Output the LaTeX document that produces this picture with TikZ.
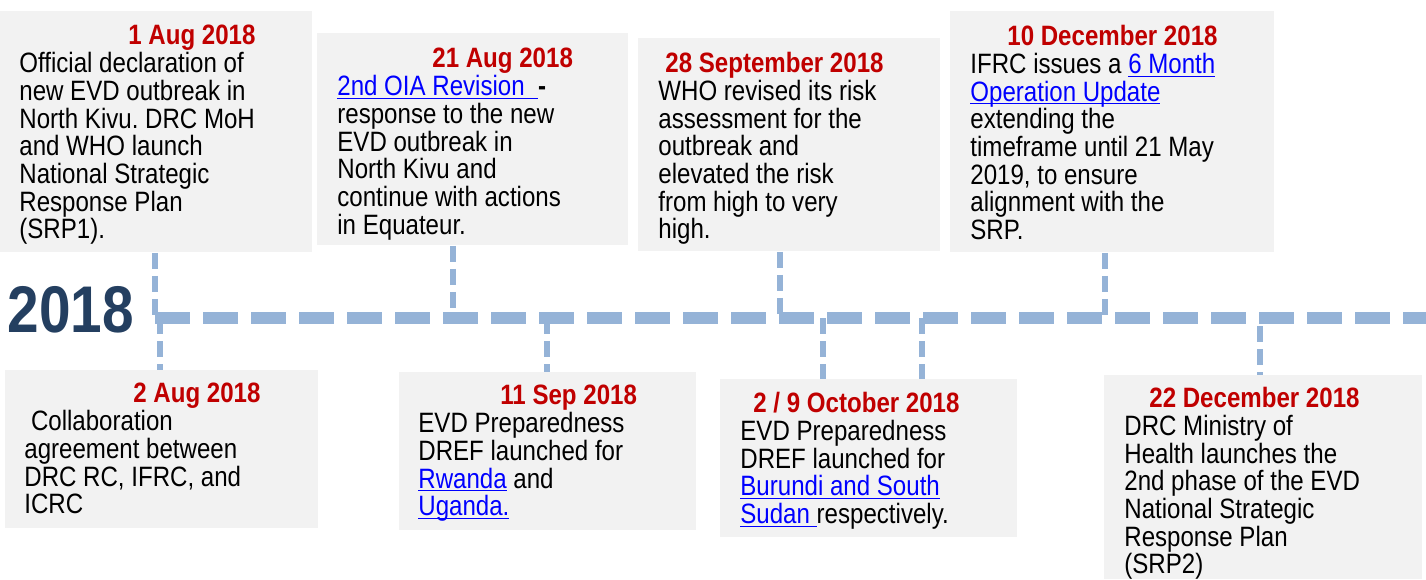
\documentclass[tikz,border=0pt]{standalone}
\usepackage{fontspec}
\setmainfont[FakeStretch=0.86]{Liberation Sans}
\usetikzlibrary{positioning}
\definecolor{boxgray}{HTML}{F2F2F2}
\definecolor{datered}{HTML}{C00000}
\definecolor{lineblue}{HTML}{95B3D7}
\definecolor{yearblue}{HTML}{243F60}
\definecolor{linkblue}{HTML}{0000FF}
\newcommand{\evdate}[1]{\textbf{\textcolor{datered}{#1}}}
\newcommand{\lnk}[1]{\textcolor{linkblue}{\underline{\smash{#1}}}}
\frenchspacing
\begin{document}
\begin{tikzpicture}[x=0.5pt, y=-0.5pt,
    evbox/.style 2 args={fill=boxgray, inner sep=0pt, anchor=north west, minimum width=#1*0.5pt, minimum height=#2*0.5pt},
    evtext/.style={anchor=north west, inner sep=0pt, align=left, font=\fontsize{14}{13.85}\selectfont},
    stem/.style={draw=lineblue, line width=3pt, dash pattern=on 8pt off 3.5pt},
    timeline/.style={draw=lineblue, line width=6pt, dash pattern=on 17.5pt off 6.5pt}]
        \useasboundingbox (0,0) rectangle (1426,579);

        \node[evbox={312}{241}] (aug1) at (0,11) {};
        \node[evbox={311}{212}] (aug21) at (317,33) {};
        \node[evbox={302}{213}] (sep28) at (638,38) {};
        \node[evbox={324}{241}] (dec10) at (950,11) {};
        \node[evbox={313}{158}] (aug2) at (5,370) {};
        \node[evbox={297}{158}] (sep11) at (399,372) {};
        \node[evbox={297}{158}] (oct) at (720,379) {};
        \node[evbox={318}{204}] (dec22) at (1104,375) {};

        \node[evtext] (aug1txt) at (19,25) {\hspace*{54.5pt}\evdate{1 Aug 2018}\\Official declaration of\\new EVD outbreak in\\North Kivu. DRC MoH\\and WHO launch\\National Strategic\\Response Plan\\(SRP1).};
        \node[evtext] (aug21txt) at (337,48) {\hspace*{47.5pt}\evdate{21 Aug 2018}\\\lnk{2nd OIA Revision\ \ }\textbf{-}\\response to the new\\EVD outbreak in\\North Kivu and\\continue with actions\\in Equateur.};
        \node[evtext] (sep28txt) at (658,52) {\hspace*{3.5pt}\evdate{28 September 2018}\\WHO revised its risk\\assessment for the\\outbreak and\\elevated the risk\\from high to very\\high.};
        \node[evtext] (dec10txt) at (970,25) {\hspace*{18.5pt}\evdate{10 December 2018}\\IFRC issues a \lnk{6 Month}\\\lnk{Operation Update}\\extending the\\timeframe until 21 May\\2019, to ensure\\alignment with the\\SRP.};
        \node[evtext] (aug2txt) at (24,383) {\hspace*{54.5pt}\evdate{2 Aug 2018}\\\hspace*{3.3pt}Collaboration\\agreement between\\DRC RC, IFRC, and\\ICRC};
        \node[evtext] (sep11txt) at (418,385) {\hspace*{41pt}\evdate{11 Sep 2018}\\EVD Preparedness\\DREF launched for\\\lnk{Rwanda} and\\\lnk{Uganda.}};
        \node[evtext] (octtxt) at (740,392) {\hspace*{6.5pt}\evdate{2 / 9 October 2018}\\EVD Preparedness\\DREF launched for\\\lnk{Burundi and South}\\\lnk{Sudan\ }respectively.};
        \node[evtext] (dec22txt) at (1124,387) {\hspace*{12.5pt}\evdate{22 December 2018}\\DRC Ministry of\\Health launches the\\2nd phase of the EVD\\National Strategic\\Response Plan\\(SRP2)};

        \node[inner sep=0pt, text=yearblue, font=\fontsize{33}{33}\selectfont\bfseries] (year) at (71,310) {2018};

        \coordinate (tlstart) at (155,318);
        \coordinate (tlend) at (1426,318);
        \coordinate (s1) at (155,318);
        \coordinate (s2) at (453,318);
        \coordinate (s3) at (780,318);
        \coordinate (s4) at (1105,318);
        \coordinate (s5) at (160,318);
        \coordinate (s6) at (547,318);
        \coordinate (s7) at (823,318);
        \coordinate (s7b) at (922,318);
        \coordinate (s8) at (1260,326);

        \draw[stem] (aug1.south -| s1) -- (s1);
        \draw[stem] (aug21.south -| s2) -- (s2);
        \draw[stem] (sep28.south -| s3) -- (s3);
        \draw[stem] (dec10.south -| s4) -- (s4);
        \draw[stem] (s5) -- (aug2.north -| s5);
        \draw[stem] (s6) -- (sep11.north -| s6);
        \draw[stem] (s7) -- (oct.north -| s7);
        \draw[stem] (s7b) -- (oct.north -| s7b);
        \draw[stem] (s8) -- (dec22.north -| s8);

        \draw[timeline] (tlstart) -- (tlend);
    \end{tikzpicture}
\end{document}
